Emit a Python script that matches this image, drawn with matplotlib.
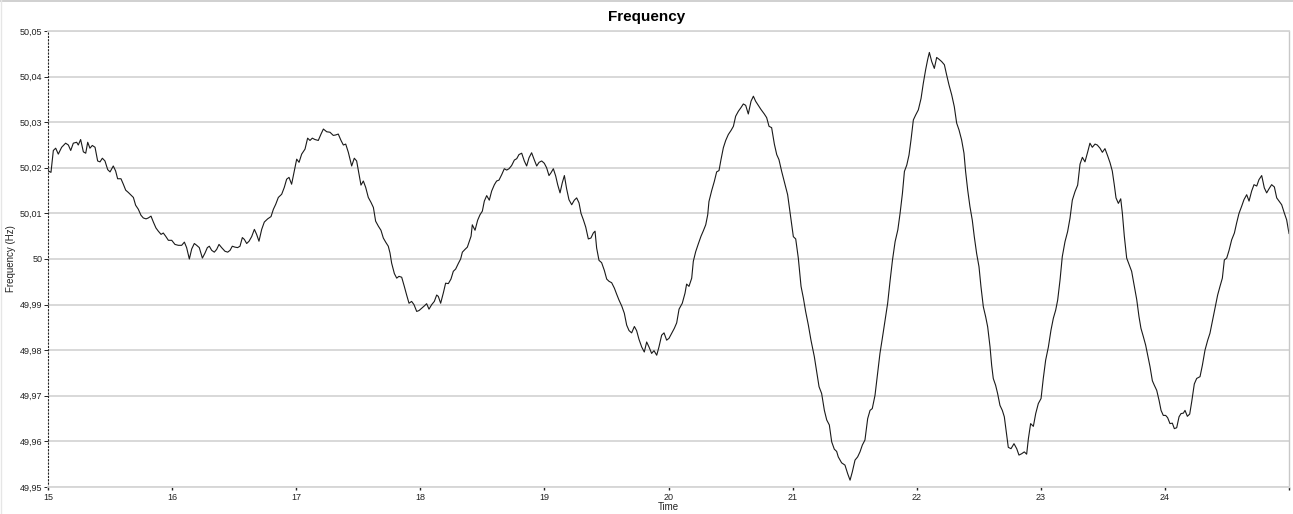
import matplotlib
matplotlib.use("Agg")
import matplotlib.pyplot as plt
from matplotlib.ticker import FuncFormatter, FixedLocator
from matplotlib.lines import Line2D

plt.rcParams['font.family'] = ['Liberation Sans', 'DejaVu Sans']

# ---- data (time in minutes-ish units, frequency in Hz) ----
time_a = [15.003, 15.024, 15.043, 15.062, 15.083, 15.110, 15.142, 15.164, 15.183, 15.204,
          15.231, 15.244, 15.263, 15.285, 15.304, 15.320, 15.338, 15.357, 15.379, 15.400,
          15.419, 15.438, 15.459, 15.481, 15.500, 15.526, 15.545, 15.561, 15.588, 15.607,
          15.626, 15.647, 15.669, 15.688, 15.706, 15.728, 15.749, 15.768, 15.790, 15.808,
          15.830, 15.849, 15.870, 15.889, 15.911, 15.929, 15.948, 15.970, 15.997, 16.023,
          16.050, 16.077, 16.099, 16.117, 16.139, 16.158, 16.179, 16.198, 16.219, 16.244,
          16.265, 16.284, 16.300, 16.319, 16.340, 16.359, 16.378, 16.399, 16.426, 16.448,
          16.467, 16.485, 16.507, 16.528, 16.547, 16.566, 16.582, 16.601, 16.620, 16.641,
          16.663, 16.681, 16.700]
freq_a = [50.0193, 50.0190, 50.0238, 50.0243, 50.0230, 50.0245, 50.0254, 50.0250, 50.0238, 50.0254,
          50.0256, 50.0250, 50.0262, 50.0235, 50.0232, 50.0256, 50.0243, 50.0249, 50.0245, 50.0215,
          50.0213, 50.0221, 50.0215, 50.0196, 50.0191, 50.0204, 50.0193, 50.0176, 50.0176, 50.0164,
          50.0151, 50.0146, 50.0140, 50.0135, 50.0118, 50.0109, 50.0096, 50.0090, 50.0088, 50.0090,
          50.0094, 50.0081, 50.0068, 50.0061, 50.0054, 50.0057, 50.0050, 50.0041, 50.0041, 50.0032,
          50.0030, 50.0030, 50.0037, 50.0025, 50.0000, 50.0022, 50.0034, 50.0030, 50.0025, 50.0002,
          50.0013, 50.0025, 50.0028, 50.0019, 50.0015, 50.0021, 50.0032, 50.0025, 50.0017, 50.0015,
          50.0019, 50.0028, 50.0026, 50.0025, 50.0028, 50.0047, 50.0043, 50.0034, 50.0039, 50.0049,
          50.0065, 50.0054, 50.0039]

time_b = [16.722, 16.743, 16.770, 16.797, 16.816, 16.835, 16.856, 16.883, 16.904, 16.923,
          16.942, 16.963, 16.985, 17.004, 17.023, 17.044, 17.071, 17.092, 17.111, 17.130,
          17.151, 17.178, 17.200, 17.219, 17.246, 17.272, 17.299, 17.318, 17.339, 17.361,
          17.380, 17.399, 17.420, 17.447, 17.468, 17.487, 17.506, 17.522, 17.541, 17.560,
          17.581, 17.603, 17.622, 17.640, 17.662, 17.683, 17.702, 17.721, 17.742, 17.756,
          17.769, 17.791, 17.810, 17.828, 17.850, 17.871, 17.890, 17.909, 17.930, 17.949,
          17.971, 17.990, 18.011, 18.032, 18.051, 18.070, 18.092, 18.113, 18.132, 18.145,
          18.164, 18.186, 18.204, 18.226, 18.247, 18.266, 18.285, 18.306, 18.325, 18.339,
          18.360, 18.379, 18.400]
freq_b = [50.0065, 50.0081, 50.0088, 50.0093, 50.0109, 50.0120, 50.0135, 50.0142, 50.0157, 50.0175,
          50.0179, 50.0164, 50.0193, 50.0219, 50.0212, 50.0230, 50.0241, 50.0265, 50.0260, 50.0265,
          50.0262, 50.0260, 50.0274, 50.0285, 50.0279, 50.0278, 50.0271, 50.0272, 50.0274, 50.0260,
          50.0250, 50.0252, 50.0234, 50.0204, 50.0221, 50.0215, 50.0186, 50.0162, 50.0171, 50.0157,
          50.0135, 50.0124, 50.0113, 50.0083, 50.0072, 50.0063, 50.0046, 50.0037, 50.0028, 50.0013,
          49.9991, 49.9968, 49.9958, 49.9962, 49.9960, 49.9940, 49.9921, 49.9903, 49.9907, 49.9900,
          49.9885, 49.9887, 49.9892, 49.9897, 49.9902, 49.9890, 49.9900, 49.9907, 49.9921, 49.9918,
          49.9903, 49.9926, 49.9947, 49.9946, 49.9956, 49.9973, 49.9978, 49.9990, 50.0000, 50.0015,
          50.0021, 50.0026, 50.0043]

time_c = [18.409, 18.419, 18.441, 18.462, 18.481, 18.500, 18.516, 18.535, 18.556, 18.575,
          18.597, 18.615, 18.634, 18.656, 18.677, 18.696, 18.715, 18.736, 18.758, 18.777,
          18.795, 18.817, 18.838, 18.857, 18.876, 18.897, 18.919, 18.938, 18.957, 18.978,
          18.999, 19.018, 19.037, 19.053, 19.072, 19.091, 19.107, 19.126, 19.144, 19.161,
          19.179, 19.198, 19.220, 19.241, 19.260, 19.279, 19.295, 19.314, 19.333, 19.354,
          19.375, 19.394, 19.408, 19.421, 19.440, 19.461, 19.483, 19.502, 19.521, 19.542,
          19.564, 19.582, 19.601, 19.623, 19.644, 19.663, 19.682, 19.703, 19.725, 19.743,
          19.762, 19.784, 19.805, 19.824, 19.843, 19.864, 19.883, 19.905, 19.923, 19.945,
          19.964, 19.985, 20.004, 20.025, 20.047, 20.066, 20.085]
freq_c = [50.0050, 50.0075, 50.0063, 50.0085, 50.0097, 50.0105, 50.0127, 50.0139, 50.0129, 50.0149,
          50.0163, 50.0171, 50.0173, 50.0185, 50.0198, 50.0195, 50.0198, 50.0205, 50.0217, 50.0220,
          50.0229, 50.0232, 50.0215, 50.0204, 50.0222, 50.0233, 50.0217, 50.0204, 50.0212, 50.0215,
          50.0210, 50.0200, 50.0183, 50.0189, 50.0198, 50.0182, 50.0163, 50.0145, 50.0167, 50.0183,
          50.0154, 50.0130, 50.0119, 50.0129, 50.0134, 50.0123, 50.0100, 50.0086, 50.0070, 50.0044,
          50.0046, 50.0057, 50.0061, 50.0024, 49.9997, 49.9992, 49.9975, 49.9956, 49.9951, 49.9948,
          49.9936, 49.9923, 49.9910, 49.9897, 49.9881, 49.9855, 49.9843, 49.9838, 49.9852, 49.9843,
          49.9824, 49.9807, 49.9796, 49.9818, 49.9807, 49.9793, 49.9799, 49.9789, 49.9807, 49.9833,
          49.9838, 49.9822, 49.9826, 49.9837, 49.9848, 49.9860, 49.9890]

time_d = [20.111, 20.133, 20.146, 20.165, 20.187, 20.200, 20.219, 20.240, 20.262, 20.281,
          20.300, 20.316, 20.326, 20.348, 20.369, 20.388, 20.407, 20.423, 20.442, 20.461,
          20.482, 20.504, 20.523, 20.541, 20.563, 20.584, 20.603, 20.622, 20.643, 20.665,
          20.684, 20.702, 20.724, 20.745, 20.772, 20.791, 20.810, 20.831, 20.853, 20.872,
          20.890, 20.912, 20.933, 20.960, 20.979, 20.993, 21.006, 21.025, 21.046, 21.068,
          21.087, 21.105, 21.127, 21.148, 21.175, 21.194, 21.213, 21.234, 21.256, 21.275,
          21.296, 21.315, 21.336, 21.355, 21.368, 21.395, 21.422, 21.444, 21.463, 21.481,
          21.503, 21.524, 21.543, 21.562, 21.583, 21.605, 21.624, 21.642, 21.664, 21.685,
          21.704, 21.723, 21.745, 21.766, 21.785]
freq_d = [49.9903, 49.9925, 49.9945, 49.9940, 49.9958, 49.9995, 50.0016, 50.0033, 50.0050, 50.0062,
          50.0075, 50.0097, 50.0126, 50.0150, 50.0170, 50.0191, 50.0194, 50.0218, 50.0244, 50.0260,
          50.0273, 50.0282, 50.0291, 50.0313, 50.0324, 50.0332, 50.0340, 50.0337, 50.0318, 50.0346,
          50.0357, 50.0346, 50.0337, 50.0328, 50.0318, 50.0310, 50.0291, 50.0288, 50.0252, 50.0229,
          50.0218, 50.0192, 50.0170, 50.0141, 50.0104, 50.0075, 50.0049, 50.0044, 50.0002, 49.9940,
          49.9914, 49.9885, 49.9855, 49.9822, 49.9786, 49.9753, 49.9720, 49.9705, 49.9668, 49.9647,
          49.9636, 49.9599, 49.9583, 49.9578, 49.9566, 49.9553, 49.9548, 49.9529, 49.9515, 49.9533,
          49.9559, 49.9566, 49.9577, 49.9592, 49.9603, 49.9650, 49.9668, 49.9672, 49.9701, 49.9749,
          49.9793, 49.9826, 49.9866, 49.9903, 49.9951]

time_e = [21.805, 21.826, 21.848, 21.866, 21.885, 21.901, 21.920, 21.938, 21.954, 21.973,
          21.992, 22.013, 22.035, 22.053, 22.072, 22.088, 22.102, 22.121, 22.142, 22.161,
          22.180, 22.201, 22.223, 22.241, 22.260, 22.282, 22.303, 22.322, 22.341, 22.362,
          22.381, 22.394, 22.411, 22.429, 22.448, 22.464, 22.483, 22.502, 22.518, 22.537,
          22.556, 22.572, 22.591, 22.604, 22.617, 22.636, 22.652, 22.671, 22.690, 22.706,
          22.725, 22.738, 22.760, 22.784, 22.806, 22.824, 22.846, 22.867, 22.886, 22.900,
          22.918, 22.940, 22.959, 22.980, 23.002, 23.020, 23.039, 23.061, 23.082, 23.101,
          23.120, 23.136, 23.155, 23.173, 23.195, 23.216, 23.235, 23.254, 23.276, 23.297,
          23.316, 23.335, 23.356, 23.378, 23.396, 23.415, 23.437, 23.455, 23.477]
freq_e = [49.9998, 50.0038, 50.0064, 50.0100, 50.0144, 50.0192, 50.0206, 50.0228, 50.0261, 50.0305,
          50.0316, 50.0327, 50.0352, 50.0385, 50.0415, 50.0437, 50.0453, 50.0433, 50.0418, 50.0442,
          50.0438, 50.0433, 50.0426, 50.0404, 50.0382, 50.0360, 50.0334, 50.0298, 50.0283, 50.0261,
          50.0232, 50.0192, 50.0151, 50.0115, 50.0085, 50.0049, 50.0012, 49.9983, 49.9939, 49.9895,
          49.9873, 49.9851, 49.9807, 49.9767, 49.9738, 49.9723, 49.9705, 49.9679, 49.9668, 49.9654,
          49.9614, 49.9587, 49.9584, 49.9595, 49.9584, 49.9570, 49.9573, 49.9577, 49.9572, 49.9606,
          49.9639, 49.9633, 49.9661, 49.9683, 49.9694, 49.9738, 49.9778, 49.9807, 49.9844, 49.9870,
          49.9888, 49.9910, 49.9954, 50.0005, 50.0038, 50.0060, 50.0089, 50.0129, 50.0148, 50.0162,
          50.0208, 50.0223, 50.0213, 50.0235, 50.0254, 50.0245, 50.0252, 50.0250, 50.0243]

time_f = [23.496, 23.517, 23.539, 23.558, 23.576, 23.592, 23.606, 23.625, 23.644, 23.657,
          23.673, 23.692, 23.711, 23.732, 23.754, 23.773, 23.791, 23.807, 23.826, 23.845,
          23.861, 23.880, 23.899, 23.915, 23.934, 23.953, 23.969, 23.987, 24.006, 24.022,
          24.041, 24.060, 24.076, 24.095, 24.114, 24.130, 24.149, 24.162, 24.181, 24.200,
          24.216, 24.237, 24.256, 24.283, 24.302, 24.323, 24.345, 24.363, 24.382, 24.404,
          24.425, 24.444, 24.463, 24.479, 24.498, 24.517, 24.538, 24.560, 24.578, 24.597,
          24.619, 24.637, 24.659, 24.678, 24.699, 24.718, 24.740, 24.758, 24.780, 24.801,
          24.820, 24.839, 24.860, 24.882, 24.901, 24.920, 24.941, 24.962, 24.981, 25.000]
freq_f = [50.0234, 50.0242, 50.0226, 50.0211, 50.0193, 50.0163, 50.0134, 50.0122, 50.0132, 50.0101,
          50.0050, 50.0002, 49.9988, 49.9973, 49.9940, 49.9911, 49.9874, 49.9848, 49.9830, 49.9811,
          49.9789, 49.9764, 49.9733, 49.9723, 49.9712, 49.9690, 49.9668, 49.9657, 49.9657, 49.9652,
          49.9639, 49.9640, 49.9628, 49.9630, 49.9654, 49.9661, 49.9662, 49.9668, 49.9655, 49.9660,
          49.9687, 49.9726, 49.9738, 49.9742, 49.9767, 49.9800, 49.9822, 49.9837, 49.9863, 49.9892,
          49.9921, 49.9940, 49.9958, 49.9998, 50.0002, 50.0019, 50.0042, 50.0057, 50.0079, 50.0100,
          50.0116, 50.0130, 50.0141, 50.0127, 50.0149, 50.0163, 50.0160, 50.0174, 50.0183, 50.0156,
          50.0145, 50.0154, 50.0163, 50.0158, 50.0134, 50.0127, 50.0119, 50.0101, 50.0086, 50.0056]

x_ticks = [15, 16, 17, 18, 19, 20, 21, 22, 23, 24, 25]
x_tick_labels = ['15', '16', '17', '18', '19', '20', '21', '22', '23', '24', '']
y_ticks = [49.95, 49.96, 49.97, 49.98, 49.99, 50.00, 50.01, 50.02, 50.03, 50.04, 50.05]

title_text = 'Frequency'
x_label = 'Time'
y_label = 'Frequency (Hz)'

time_all = time_a + time_b + time_c + time_d + time_e + time_f
freq_all = freq_a + freq_b + freq_c + freq_d + freq_e + freq_f

# ---- figure ----
W, H = 1293, 514
fig = plt.figure(figsize=(W / 100, H / 100), dpi=100)
ax = fig.add_axes([48 / W, 27 / H, 1241 / W, 456 / H])

grid_col = '#d6d6d6'
ax.plot(time_all, freq_all, color='#1a1a1a', lw=0.8, solid_joinstyle='round')

ax.set_xlim(15, 25)
ax.set_ylim(49.95, 50.05)
ax.xaxis.set_major_locator(FixedLocator(x_ticks))
ax.set_xticklabels(x_tick_labels)
ax.yaxis.set_major_locator(FixedLocator(y_ticks))


def yfmt(v, pos):
    s = f"{v:.2f}".rstrip('0').rstrip('.')
    return s.replace('.', ',')


ax.yaxis.set_major_formatter(FuncFormatter(yfmt))

ax.set_axisbelow(True)
ax.yaxis.grid(True, color=grid_col, lw=1.3)
ax.xaxis.grid(False)

ax.spines['left'].set_color('#222222')
ax.spines['left'].set_linestyle((0, (1, 2)))
ax.spines['left'].set_linewidth(0.8)
for s in ('top', 'bottom'):
    ax.spines[s].set_color(grid_col)
    ax.spines[s].set_linewidth(1.3)
ax.spines['right'].set_color('#c8c8c8')
ax.spines['right'].set_linewidth(1.0)

ax.tick_params(axis='y', direction='out', length=3, width=0.7, color='#222222',
               labelsize=6.5, pad=1, labelcolor='#222222')
ax.tick_params(axis='x', direction='out', length=2, width=1.0, color='#222222',
               labelsize=6.5, pad=2.5, labelcolor='#222222')

ax.set_xlabel(x_label, fontsize=7, labelpad=0, color='#222222')
ax.set_ylabel(y_label, fontsize=7, labelpad=3, color='#222222')

fig.text(0.5, 1 - 17 / H, title_text, ha='center', va='center',
         fontsize=11, fontweight='bold', color='black')

# light frame lines at the top and left edge of the image
fig.add_artist(Line2D([0, 1], [1 - 0.6 / H, 1 - 0.6 / H], color='#c8c8c8', lw=1.2,
                      transform=fig.transFigure))
fig.add_artist(Line2D([0.6 / W, 0.6 / W], [0, 1], color='#e6e6e6', lw=1.0,
                      transform=fig.transFigure))

fig.savefig('out.png', dpi=100)
